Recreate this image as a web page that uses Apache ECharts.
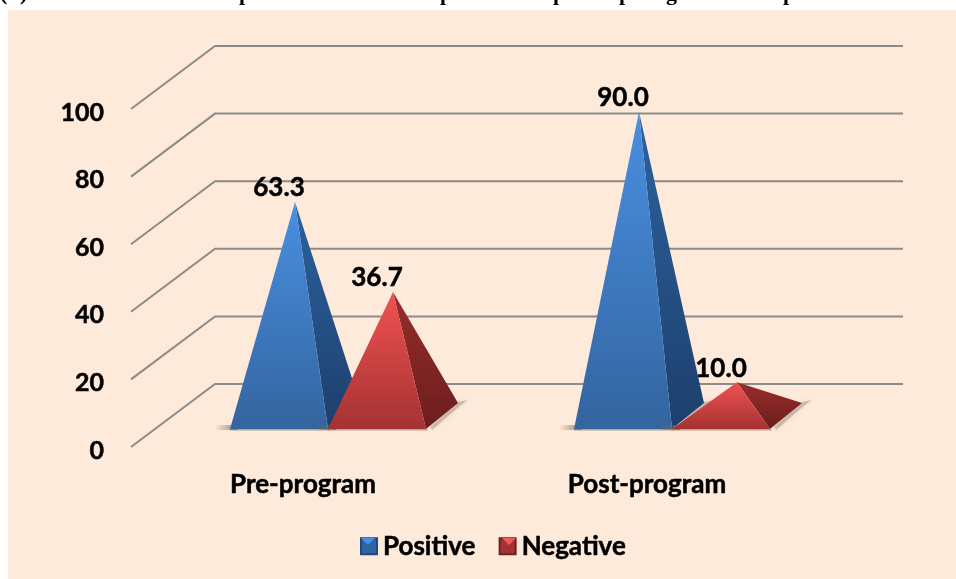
<!DOCTYPE html>
<html><head><meta charset="utf-8">
<style>html,body{margin:0;padding:0;background:#fff}#c{width:956px;height:579px}</style>
<script src="https://cdn.jsdelivr.net/npm/echarts@6/dist/echarts.min.js"></script>
</head><body><div id="c"></div>
<script>
const categories = ['Pre-program', 'Post-program'];
const positive = [63.3, 90.0];
const negative = [36.7, 10.0];
const yTicks = [0, 20, 40, 60, 80, 100];
const titleGlyphs = [['(', 0], [')', 20], ['p', 239], ['p', 440], ['p', 553], ['p', 619], ['g', 666], ['p', 783]];

const FONT = 'Lato';
const BOLDER = {textBorderColor:'#000', textBorderWidth:0.5};
const DEPTH_X = 84, DEPTH_Y = 63, WALL_RIGHT = 903;
function grad(a, b) {
  return {type:'linear', x:0, y:0, x2:0, y2:1, colorStops:[{offset:0,color:a},{offset:1,color:b}]};
}
const styles = {
  Positive: {offset:-73, w:98, front:grad('#4a8fe2','#33659f'), side:grad('#2c639f','#1d3f6d')},
  Negative: {offset:25,  w:98, front:grad('#f05252','#a53232'), side:grad('#982d2d','#6c1d1d')}
};
function pyramid(name) {
  const s = styles[name];
  return function (params, api) {
    const cat = api.value(0), v = api.value(1);
    const top = api.coord([cat, v]), floor = api.coord([cat, 0]);
    const x0 = top[0] + s.offset, x1 = x0 + s.w;
    const yF = floor[1] - 18, yB = floor[1] - 44;
    const cx = (x0 + x1) / 2;
    const ax = cx + 16, ay = top[1] - 31;
    return {type:'group', children:[
      {type:'polygon', shape:{points:[[x0-15,yF-4],[x0+8,yF-4],[x0+8,yF+1],[x0-15,yF+1]]},
        style:{fill:{type:'linear',x:0,y:0,x2:1,y2:0,colorStops:[{offset:0,color:'rgba(120,100,80,0)'},{offset:.7,color:'rgba(120,100,80,.55)'},{offset:1,color:'rgba(120,100,80,.8)'}]}}},
      {type:'polygon', shape:{points:[[x0,yF-1],[x1,yF-1],[x1+2,yF+1.5],[x0,yF+1.5]]},
        style:{fill:'rgba(130,110,90,.55)'}},
      {type:'polygon', shape:{points:[[x1+4,yF-2],[x1+32,yB-1],[x1+42,yB-3],[x1+35,yB+2],[x1+6,yF+1]]},
        style:{fill:'rgba(110,92,74,.3)', shadowBlur:5, shadowColor:'rgba(110,92,74,.4)'}},
      {type:'polygon', shape:{points:[[x1,yF],[x1+32,yB],[ax,ay]]}, style:{fill:s.side}},
      {type:'polygon', shape:{points:[[x0,yF],[x1,yF],[ax,ay]]}, style:{fill:s.front}},
      {type:'text', style:{text:v.toFixed(1), x:cx, y:ay-14, align:'center', verticalAlign:'middle',
        font:'bold 26px '+FONT, fill:'#000', stroke:'#000', lineWidth:0.5}, z2:50}
    ]};
  };
}
function wall(params, api) {
  const p = api.coord([0, api.value(0)]);
  const left = p[0] - api.size([1,0])[0] / 2;
  return {type:'polyline', shape:{points:[[left,p[1]],[left+DEPTH_X,p[1]-DEPTH_Y],[WALL_RIGHT,p[1]-DEPTH_Y]]},
    style:{fill:'none', stroke:'#8b8b88', lineWidth:2}};
}
function tri(x, y, c) {
  return {type:'polygon', silent:true, z:20, shape:{points:[[x+1,y+1],[x+15,y+1],[x+8,y+8]]}, style:{fill:c}};
}
const chart = echarts.init(document.getElementById('c'), null, {renderer:'canvas'});
chart.setOption({
  animation:false,
  backgroundColor:'#fff',
  textStyle:{fontFamily:FONT},
  grid:{left:131, right:137, top:109, bottom:132, containLabel:false},
  xAxis:{type:'category', data:categories, axisLine:{show:false}, axisTick:{show:false},
    axisLabel:Object.assign({color:'#000', fontFamily:FONT, fontWeight:'bold', fontSize:26, margin:25}, BOLDER)},
  yAxis:{type:'value', min:0, max:100, interval:20, splitLine:{show:false}, axisLine:{show:false}, axisTick:{show:false},
    axisLabel:Object.assign({color:'#000', fontFamily:FONT, fontWeight:'bold', fontSize:25, margin:27, verticalAlign:'top', lineHeight:7}, BOLDER)},
  legend:{data:['Positive','Negative'], top:528, left:355, itemWidth:16, itemHeight:16, itemGap:23,
    icon:'rect', textStyle:Object.assign({color:'#000', fontFamily:FONT, fontWeight:'bold', fontSize:26, padding:[0,0,0,1]}, BOLDER)},
  graphic:[
    {type:'rect', z:-10, silent:true, shape:{x:8,y:10,width:948,height:569}, style:{fill:'#fdeadb'}},
    tri(360,537,'#4a90e2'), tri(501,537,'#ee5a5a')
  ].concat(titleGlyphs.map(g => ({type:'text', silent:true, x:g[1], y:5, z:-5,
    style:{text:g[0], font:'bold 22px "Liberation Serif"', fill:'#000', verticalAlign:'bottom'}}))),
  series:[
    {type:'custom', name:'Gridlines', coordinateSystem:'cartesian2d', data:yTicks.map(v=>[v]), encode:{y:0}, renderItem:wall, z:1, silent:true},
    {type:'custom', name:'Positive', coordinateSystem:'cartesian2d', data:positive.map((v,i)=>[i,v]), encode:{x:0,y:1}, renderItem:pyramid('Positive'), z:2,
      itemStyle:{color:'#2f63a2', borderColor:'#23497a', borderWidth:1}},
    {type:'custom', name:'Negative', coordinateSystem:'cartesian2d', data:negative.map((v,i)=>[i,v]), encode:{x:0,y:1}, renderItem:pyramid('Negative'), z:3,
      itemStyle:{color:'#a33232', borderColor:'#6e2020', borderWidth:1}}
  ]
});
</script></body></html>
